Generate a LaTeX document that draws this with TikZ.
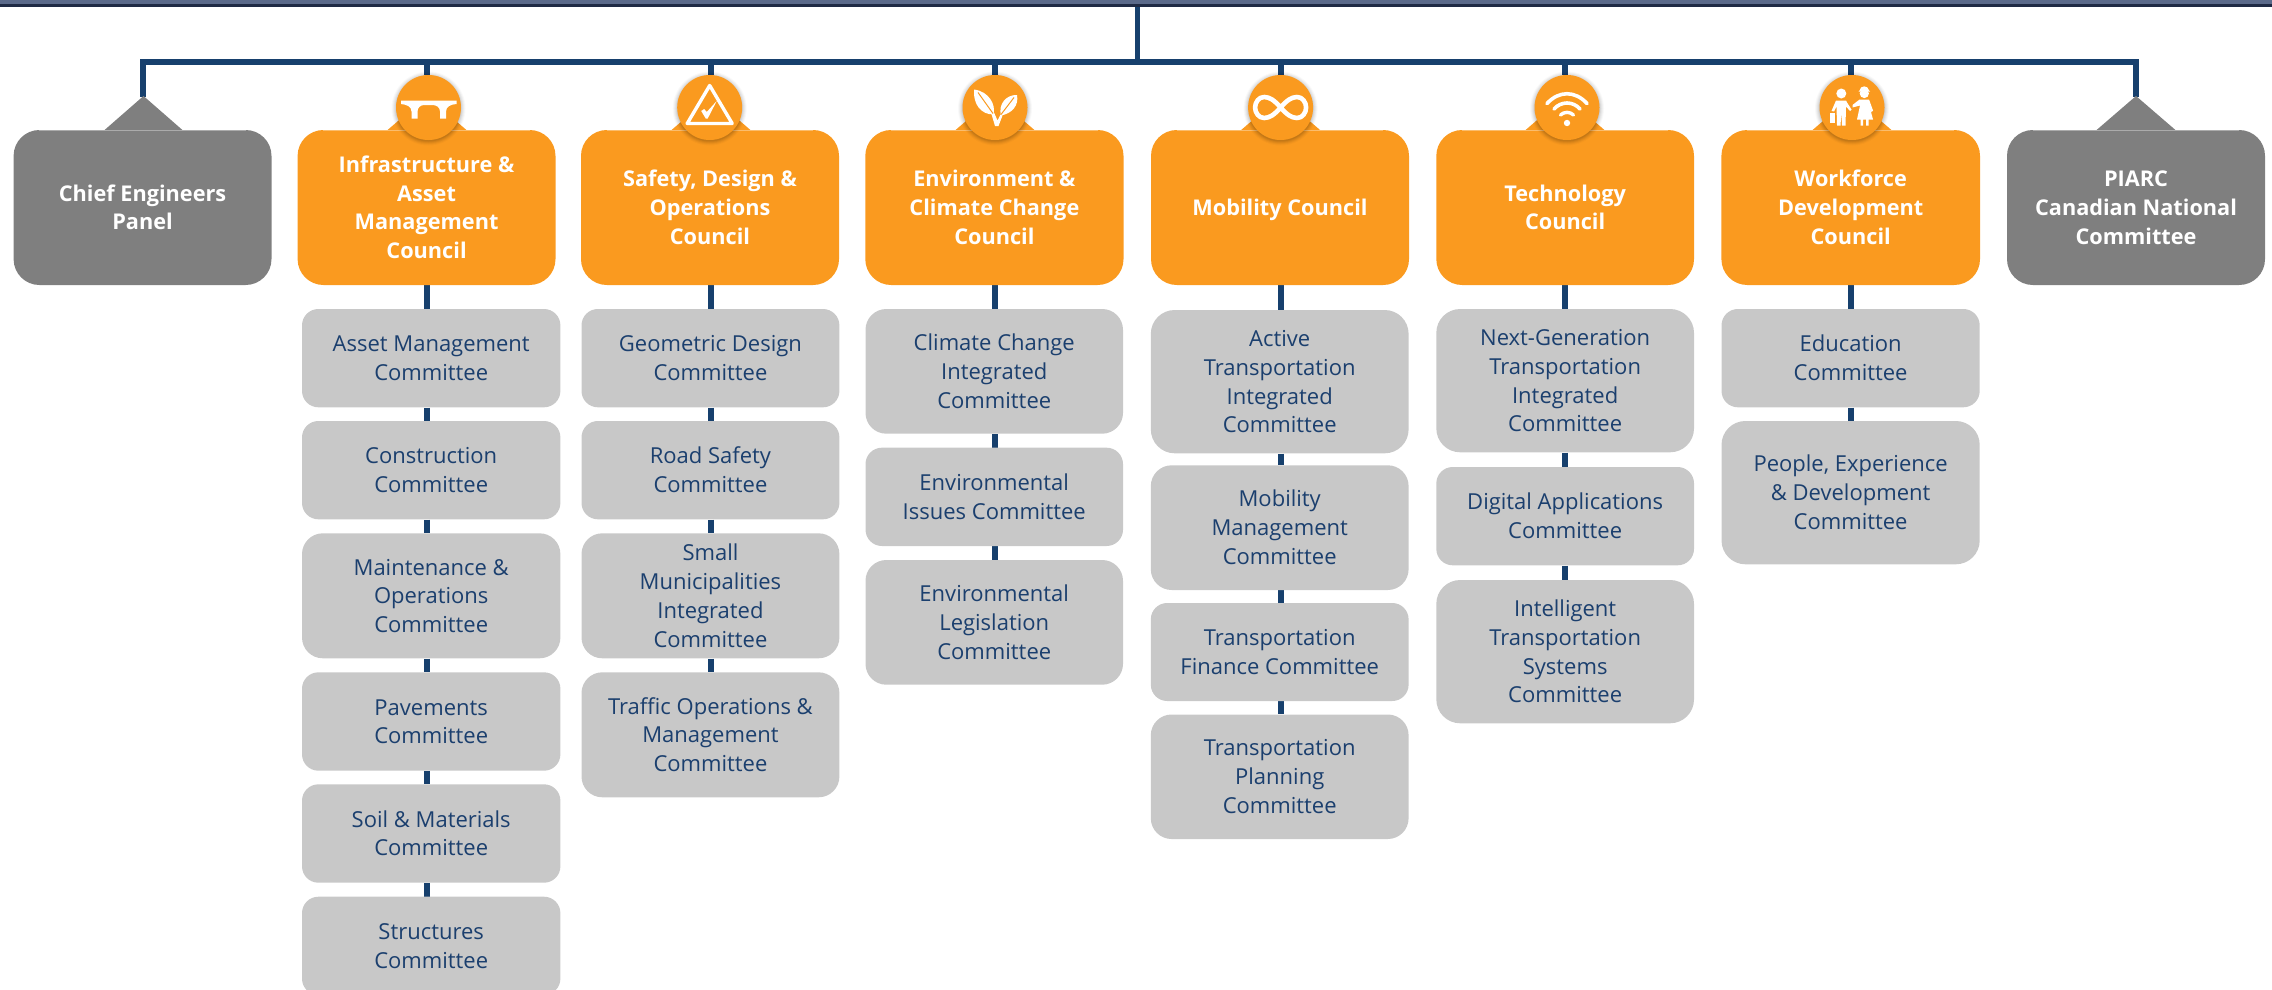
\documentclass[tikz,border=0pt]{standalone}
\usepackage{fontspec}
\setmainfont{Open Sans}
\usetikzlibrary{backgrounds,calc}
\definecolor{navy}{HTML}{17406D}
\definecolor{txtnavy}{HTML}{1B3F6E}
\definecolor{orng}{HTML}{FA9A1F}
\definecolor{grayhead}{HTML}{7F7F7F}
\definecolor{graybox}{HTML}{C8C8C8}
\definecolor{slate}{HTML}{5B6A8A}
\definecolor{slatedark}{HTML}{1F2A44}
\tikzset{
  x=1pt,y=-1pt,
  link/.style={draw=navy,line width=6pt,line join=miter},
  boxbase/.style={inner sep=0pt,align=center,text centered},
  committee/.style={boxbase,fill=graybox,text=txtnavy,font=\fontsize{22}{28.8}\selectfont},
  council/.style={boxbase,fill=orng,text=white,font=\fontsize{21.7}{28.8}\selectfont\bfseries},
  panel/.style={boxbase,fill=grayhead,text=white,font=\fontsize{21.7}{28.8}\selectfont\bfseries},
  badge/.style={circle,fill=orng,minimum size=65pt,inner sep=0pt},
  icon/.style={fill=white,draw=none},
  iconline/.style={draw=white,fill=none,line cap=round,line join=round},
  seam/.style={draw=white,opacity=.35,line width=.7pt},
}
% name, x1, y1, x2, y2, style, text
\newcommand{\bx}[7]{%
  \pgfmathsetmacro{\bw}{#4-#2}\pgfmathsetmacro{\bh}{#5-#3}%
  \pgfmathsetmacro{\bcx}{(#2+#4)/2}\pgfmathsetmacro{\bcy}{(#3+#5)/2}%
  \pgfmathsetmacro{\brad}{0.1667*min(\bw,\bh)}%
  \node[#6,minimum width=\bw pt,minimum height=\bh pt,rounded corners=\brad pt] (#1) at (\bcx,\bcy) {\rule{0pt}{24pt}#7\rule[-8pt]{0pt}{8pt}};}
% name, x
\newcommand{\badge}[2]{%
  \foreach \rr/\oo in {37/.025,36/.035,35/.045,34/.055,33/.065}{\fill[black,opacity=\oo] (#2,108.5) circle[radius=\rr];}%
  \node[badge] (#1) at (#2,107.5) {};}
\begin{document}
\begin{tikzpicture}
\useasboundingbox (0,0) rectangle (2272,990);
\fill[slate] (0,0) rectangle (2272,4.5);
\fill[slatedark] (0,4.5) rectangle (2272,7);
% coordinates of the trunk
\coordinate (top) at (1137.7,7);
\coordinate (hub) at (1137.7,62.5);
\coordinate (barL) at (143,62.5);
\coordinate (barR) at (2136,62.5);
\coordinate (tipL) at (143,97);
\coordinate (tipR) at (2136,97);
\coordinate (s1) at (426.5,62.5);
\coordinate (s2) at (711,62.5);
\coordinate (s3) at (995,62.5);
\coordinate (s4) at (1280.6,62.5);
\coordinate (s5) at (1565,62.5);
\coordinate (s6) at (1851.4,62.5);
% pointers
\fill[grayhead] (104,130.5) -- (143.5,96) -- (183,130.5) -- cycle;
\fill[grayhead] (2096,130.5) -- (2136,96) -- (2176,130.5) -- cycle;
\foreach \cx in {427,711,995,1280.6,1565,1852}{\fill[orng] (\cx-40,130.5) -- (\cx,96) -- (\cx+40,130.5) -- cycle;}
% head boxes
\bx{pl}{13.6}{130}{271.5}{285}{panel}{Chief Engineers\\Panel}
\bx{o1}{297.6}{130}{555.5}{285}{council}{Infrastructure \&\\Asset\\Management\\Council}
\bx{o2}{581}{130}{839}{285}{council}{Safety, Design \&\\Operations\\Council}
\bx{o3}{865.3}{130}{1123.5}{285}{council}{Environment \&\\Climate Change\\Council}
\bx{o4}{1151}{130}{1409}{285}{council}{Mobility Council}
\bx{o5}{1436.3}{130}{1694}{285}{council}{Technology\\Council}
\bx{o6}{1721.4}{130}{1980}{285}{council}{Workforce\\Development\\Council}
\bx{pr}{2007}{130}{2265}{285}{panel}{PIARC\\Canadian National\\Committee}
\foreach \n in {pl,o1,o2,o3,o4,o5,o6,pr}{\draw[seam] ($(\n.north west)+(26,0.4)$) -- ($(\n.north east)+(-26,0.4)$);}
% committees
\bx{c11}{302}{309}{560.4}{407.3}{committee}{Asset Management\\Committee}
\bx{c12}{302}{421}{560.4}{519.3}{committee}{Construction\\Committee}
\bx{c13}{302}{533.3}{560.4}{658.3}{committee}{Maintenance \&\\Operations\\Committee}
\bx{c14}{302}{672.3}{560.4}{770.7}{committee}{Pavements\\Committee}
\bx{c15}{302}{784.3}{560.4}{882.7}{committee}{Soil \& Materials\\Committee}
\bx{c16}{302}{896.7}{560.4}{995}{committee}{Structures\\Committee}
\bx{c21}{581.5}{309}{839.4}{407.3}{committee}{Geometric Design\\Committee}
\bx{c22}{581.5}{421}{839.4}{519.3}{committee}{Road Safety\\Committee}
\bx{c23}{581.5}{533.3}{839.4}{658.3}{committee}{Small\\Municipalities\\Integrated\\Committee}
\bx{c24}{581.5}{672.3}{839.4}{797.3}{committee}{Traffic Operations \&\\Management\\Committee}
\bx{c31}{865.5}{309}{1123}{433.7}{committee}{Climate Change\\Integrated\\Committee}
\bx{c32}{865.5}{447.7}{1123}{546}{committee}{Environmental\\Issues Committee}
\bx{c33}{865.5}{560}{1123}{684.7}{committee}{Environmental\\Legislation\\Committee}
\bx{c41}{1150.8}{310}{1408.6}{453.3}{committee}{Active\\Transportation\\Integrated\\Committee}
\bx{c42}{1150.8}{465.3}{1408.6}{590}{committee}{Mobility\\Management\\Committee}
\bx{c43}{1150.8}{603}{1408.6}{701}{committee}{Transportation\\Finance Committee}
\bx{c44}{1150.8}{714.5}{1408.6}{839}{committee}{Transportation\\Planning\\Committee}
\bx{c51}{1436.3}{309}{1694}{452.3}{committee}{Next-Generation\\Transportation\\Integrated\\Committee}
\bx{c52}{1436.3}{467}{1694}{565.3}{committee}{Digital Applications\\Committee}
\bx{c53}{1436.3}{580}{1694}{723.3}{committee}{Intelligent\\Transportation\\Systems\\Committee}
\bx{c61}{1721.5}{309}{1979.7}{407.3}{committee}{Education\\Committee}
\bx{c62}{1721.5}{421}{1979.7}{564.3}{committee}{People, Experience\\\& Development\\Committee}
% badges
\badge{i1}{428.5}
\badge{i2}{709.7}
\badge{i3}{995}
\badge{i4}{1280.6}
\badge{i5}{1567}
\badge{i6}{1852}
% connectors
\begin{scope}[on background layer]
\draw[link] (tipL) -- (barL) -- (barR) -- (tipR);
\draw[link,line width=5.5pt] (top) -- (hub);
\foreach \n in {1,...,6}{\draw[link] (s\n) -- (s\n |- i\n.north);\draw[link] (s\n |- o\n.south) -- (s\n |- c\n1.north);}
\foreach \a/\b/\s in {c11/c12/s1,c12/c13/s1,c13/c14/s1,c14/c15/s1,c15/c16/s1,
  c21/c22/s2,c22/c23/s2,c23/c24/s2,c31/c32/s3,c32/c33/s3,
  c41/c42/s4,c42/c43/s4,c43/c44/s4,c51/c52/s5,c52/c53/s5,c61/c62/s6}
  {\draw[link] (\s |- \a.south) -- (\s |- \b.north);}
\end{scope}
% bridge
\begin{scope}[shift={(i1.center)}]
\fill[icon] (-27.5,-7) -- (28,-7) -- (28,-3.5) .. controls (22,-3) and (17.5,-1) .. (17.5,4) -- (17.5,11) -- (11.5,11) -- (11.5,4) .. controls (11.5,0) and (8,-2.5) .. (4,-2.5) -- (-4,-2.5) .. controls (-8,-2.5) and (-11,0) .. (-11,4) -- (-11,11) -- (-17,11) -- (-17,4) .. controls (-17,-1) and (-22,-3) .. (-27.5,-3.5) -- cycle;
\end{scope}
% warning triangle with tick
\begin{scope}[shift={(i2.center)}]
\draw[iconline,line width=3.4pt] (0,-22) -- (22.5,16) -- (-22.5,16) -- cycle;
\fill[icon] (-8.5,3.5) -- (-5.5,1.5) -- (-3,4.5) -- (7,-6.5) -- (-2,11) -- (-4,11) -- cycle;
\end{scope}
% leaves
\begin{scope}[shift={(i3.center)}]
\fill[icon] (-21,-18) .. controls (-6,-16) and (1,-3) .. (-1.5,7) .. controls (-14,7) and (-22,-3) .. cycle;
\fill[icon] (22,-12.5) .. controls (11,-13) and (3,-3) .. (6,8) .. controls (17,6) and (24,-2) .. cycle;
\fill[icon] (-4,5) -- (-1,5) -- (2.5,13) -- (5.5,7) -- (7.5,8) -- (3.5,18.5) -- (0,18.5) -- cycle;
\draw[orng,line width=1pt] (-17,-15) -- (-2,6);
\draw[orng,line width=1pt] (19,-10) -- (6,7);
\end{scope}
% infinity
\begin{scope}[shift={(i4.center)}]
\draw[iconline,line width=4.6pt] (0,0) .. controls (6,-7) and (11,-10.5) .. (16.5,-10.5) .. controls (22,-10.5) and (25.5,-5) .. (25.5,0) .. controls (25.5,5) and (22,10.5) .. (16.5,10.5) .. controls (11,10.5) and (6,7) .. (0,0) .. controls (-6,-7) and (-11,-10.5) .. (-16.5,-10.5) .. controls (-22,-10.5) and (-25.5,-5) .. (-25.5,0) .. controls (-25.5,5) and (-22,10.5) .. (-16.5,10.5) .. controls (-11,10.5) and (-6,7) .. (0,0) -- cycle;
\end{scope}
% wifi
\begin{scope}[shift={(i5.center)}]
\draw[iconline,line width=3.6pt] (-20,-4) .. controls (-8,-17) and (8,-17) .. (20,-4);
\draw[iconline,line width=3.6pt] (-13,1.5) .. controls (-6,-6.5) and (6,-6.5) .. (13,1.5);
\draw[iconline,line width=3.4pt] (-6.5,7.5) .. controls (-3,4) and (3,4) .. (6.5,7.5);
\fill[icon] (0,15.5) circle[radius=3.2];
\end{scope}
% people
\begin{scope}[shift={(i6.center)}]
\fill[icon] (-10.7,-14) circle[radius=5];
\fill[icon] (-16,-7) -- (-6,-7) -- (-5,-5) -- (-0.5,2) -- (-2,3.5) -- (-6,-1) -- (-6.5,18) -- (-10,18) -- (-10.7,5) -- (-11.5,18) -- (-15,18) -- (-15.5,-1) -- (-18,4) -- (-20.5,3.5) -- cycle;
\fill[icon] (-22,5) rectangle (-17,15);
\fill[icon] (12.3,-14) circle[radius=4.6];
\fill[icon] (7.5,-17) .. controls (8,-22.5) and (16.5,-22.5) .. (17,-17) -- (18,-16) -- (6.5,-16) -- cycle;
\fill[icon] (7.5,-8) -- (17,-8) -- (21,3) -- (19.5,4.5) -- (17.5,-1) -- (21,12) -- (16.5,12) -- (16.5,18) -- (14,18) -- (14,12) -- (11,12) -- (11,18) -- (8.5,18) -- (8.5,12) -- (5,12) -- (8,-2) -- (0.5,0) -- (0.5,-2.5) -- cycle;
\end{scope}
\end{tikzpicture}
\end{document}
